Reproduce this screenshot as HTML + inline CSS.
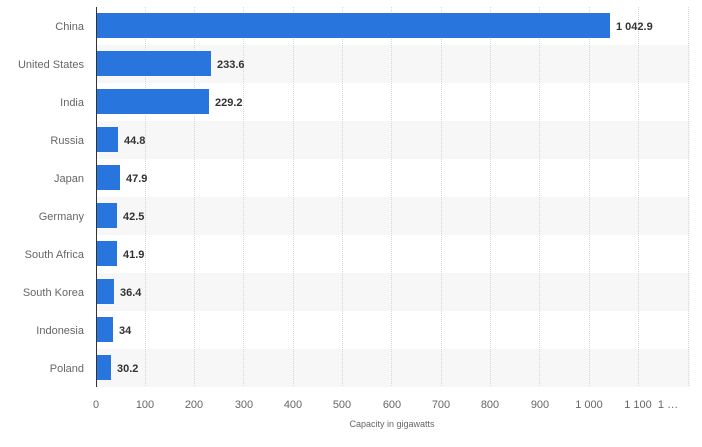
<!DOCTYPE html>
<html><head><style>body{margin:0;background:#fff}svg{display:block;font-family:"Liberation Sans",sans-serif}</style></head>
<body>
<svg width="702" height="447" viewBox="0 0 702 447" xmlns="http://www.w3.org/2000/svg">
<g fill="#f7f7f7">
<rect x="96" y="45" width="594" height="38"/>
<rect x="96" y="121" width="594" height="38"/>
<rect x="96" y="197" width="594" height="38"/>
<rect x="96" y="273" width="594" height="38"/>
<rect x="96" y="349" width="594" height="38"/>
</g>
<g stroke="#d8d8d8" stroke-dasharray="1,1" stroke-width="1">
<line x1="145.5" y1="7" x2="145.5" y2="387"/><line x1="194.5" y1="7" x2="194.5" y2="387"/>
<line x1="243.5" y1="7" x2="243.5" y2="387"/><line x1="293.5" y1="7" x2="293.5" y2="387"/>
<line x1="342.5" y1="7" x2="342.5" y2="387"/><line x1="391.5" y1="7" x2="391.5" y2="387"/>
<line x1="441.5" y1="7" x2="441.5" y2="387"/><line x1="490.5" y1="7" x2="490.5" y2="387"/>
<line x1="539.5" y1="7" x2="539.5" y2="387"/><line x1="589.5" y1="7" x2="589.5" y2="387"/>
<line x1="638.5" y1="7" x2="638.5" y2="387"/><line x1="688.5" y1="7" x2="688.5" y2="387"/>
</g>
<line x1="96.5" y1="7" x2="96.5" y2="387" stroke="#333" stroke-width="1"/>
<g fill="#2876dd">
<rect x="97" y="13" width="513" height="25"/>
<rect x="97" y="51" width="114" height="25"/>
<rect x="97" y="89" width="112" height="25"/>
<rect x="97" y="127" width="21" height="25"/>
<rect x="97" y="165" width="23" height="25"/>
<rect x="97" y="203" width="20" height="25"/>
<rect x="97" y="241" width="20" height="25"/>
<rect x="97" y="279" width="17" height="25"/>
<rect x="97" y="317" width="16" height="25"/>
<rect x="97" y="355" width="14" height="25"/>
</g>
<g font-size="11" fill="#666" text-anchor="end">
<text x="84" y="30">China</text><text x="84" y="68">United States</text>
<text x="84" y="106">India</text><text x="84" y="144">Russia</text>
<text x="84" y="182">Japan</text><text x="84" y="220">Germany</text>
<text x="84" y="258">South Africa</text><text x="84" y="296">South Korea</text>
<text x="84" y="334">Indonesia</text><text x="84" y="372">Poland</text>
</g>
<g font-size="11" font-weight="bold" fill="#333">
<text x="616" y="30">1 042.9</text><text x="217" y="68">233.6</text>
<text x="215" y="106">229.2</text><text x="124" y="144">44.8</text>
<text x="126" y="182">47.9</text><text x="123" y="220">42.5</text>
<text x="123" y="258">41.9</text><text x="120" y="296">36.4</text>
<text x="119" y="334">34</text><text x="117" y="372">30.2</text>
</g>
<g font-size="11" fill="#666" text-anchor="middle">
<text x="96" y="408">0</text><text x="145" y="408">100</text><text x="194" y="408">200</text>
<text x="244" y="408">300</text><text x="293" y="408">400</text><text x="342" y="408">500</text>
<text x="392" y="408">600</text><text x="441" y="408">700</text><text x="490" y="408">800</text>
<text x="540" y="408">900</text><text x="589" y="408">1 000</text><text x="638" y="408">1 100</text>
<text x="668" y="408">1 …</text>
</g>
<text x="392" y="427" font-size="9" fill="#666" text-anchor="middle">Capacity in gigawatts</text>
</svg>
</body></html>
